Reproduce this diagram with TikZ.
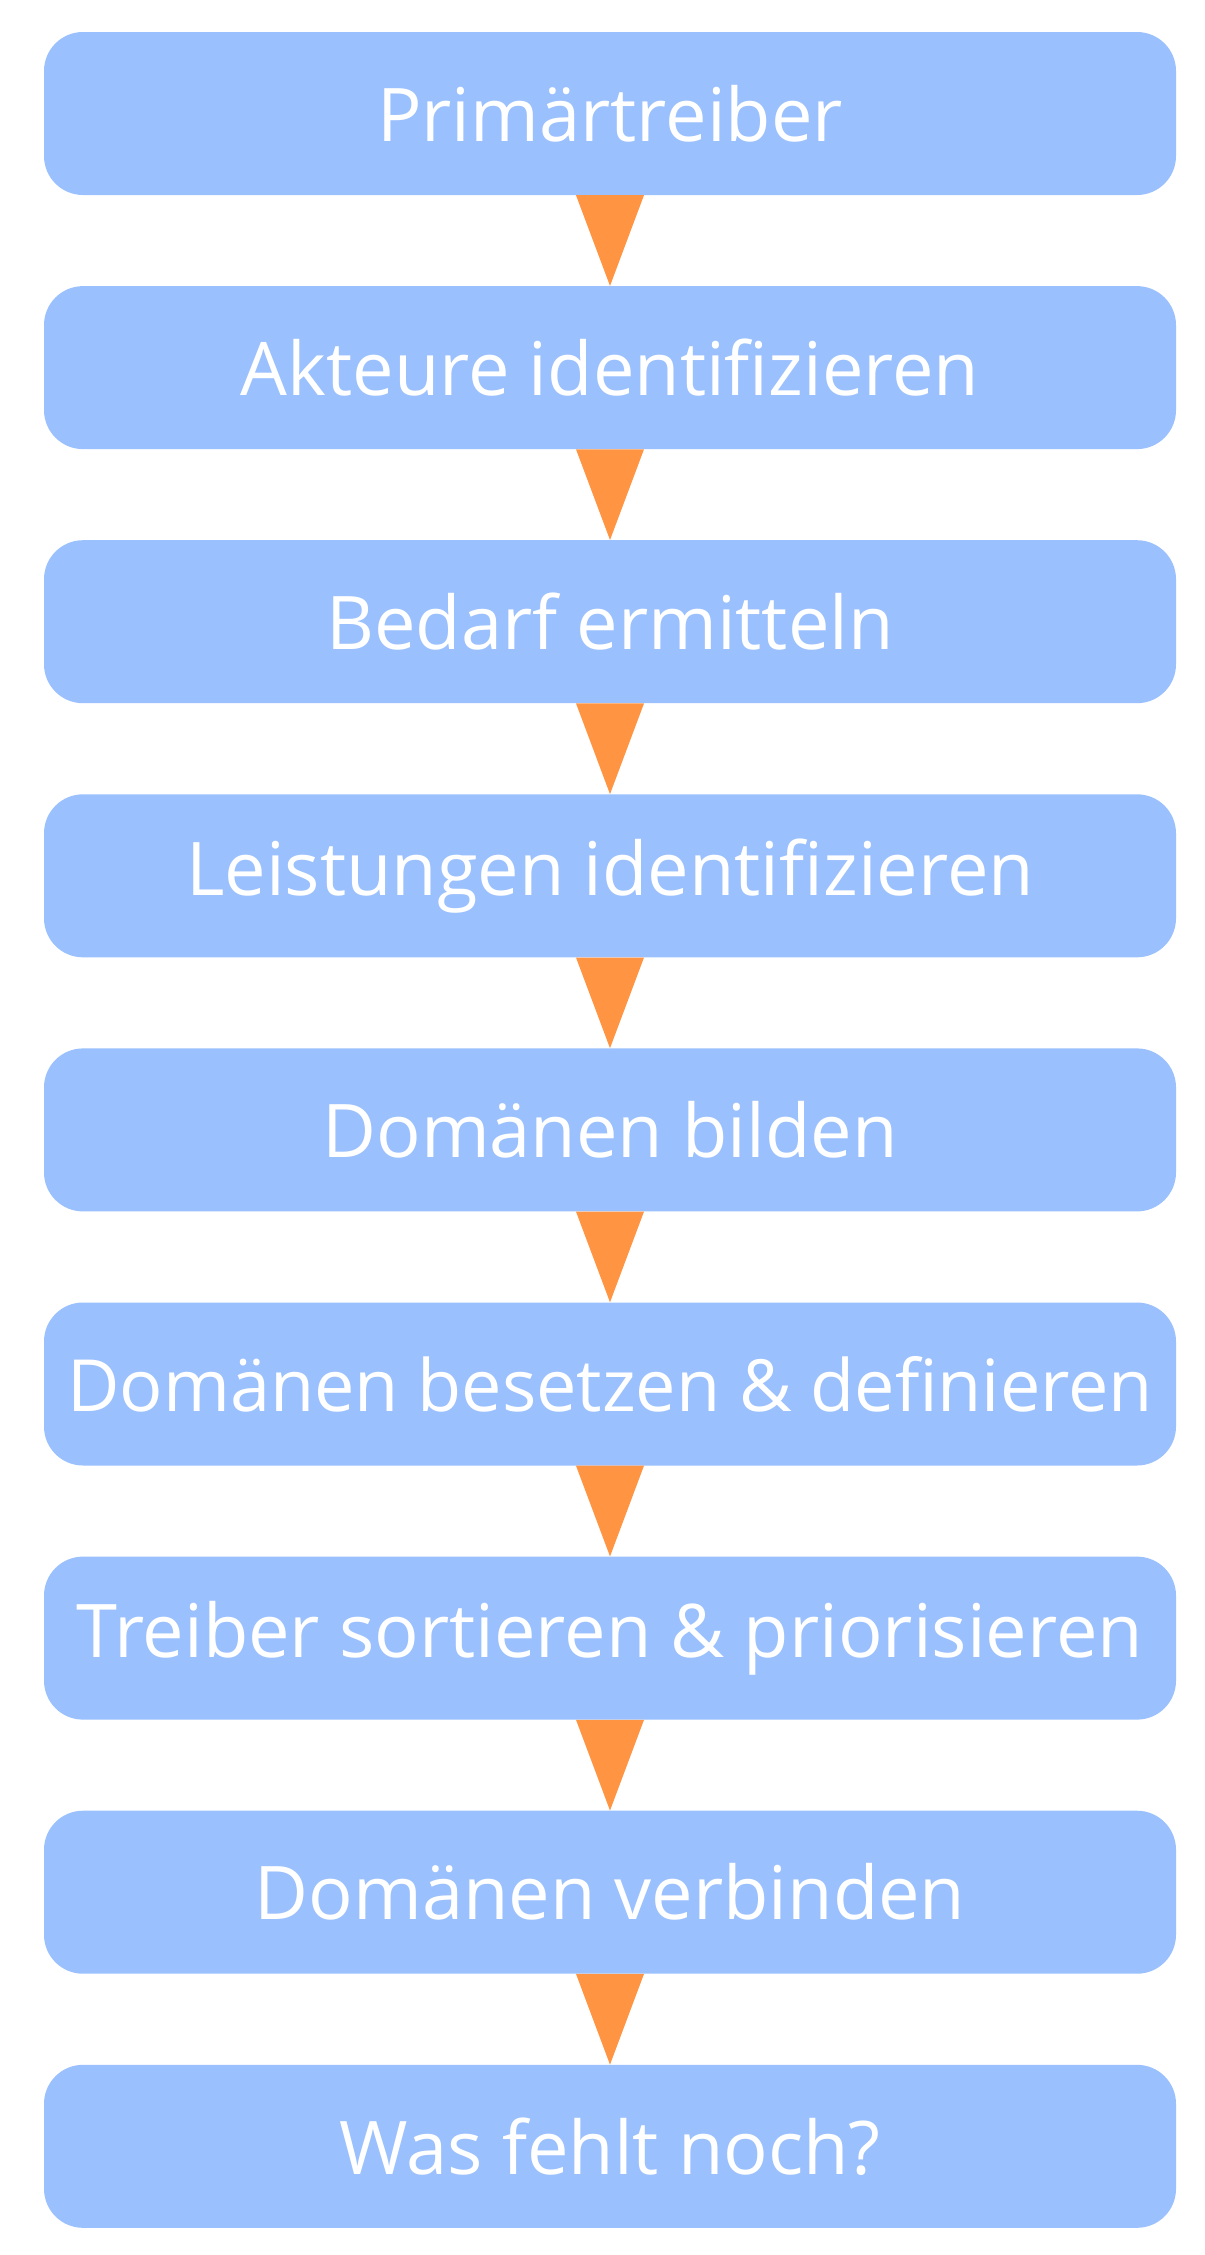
\documentclass[tikz,border=0pt]{standalone}
\usepackage{fontspec}
\setmainfont{Open Sans}
\definecolor{boxblue}{HTML}{9AC0FE}
\definecolor{arrorange}{HTML}{FF9442}
\begin{document}
\begin{tikzpicture}[x=1pt,y=-1pt,
  stepbox/.style={fill=boxblue, rounded corners=39pt, minimum width=1132pt, minimum height=163pt,
    inner sep=0pt, text=white, font=\fontsize{74}{80}\selectfont},
  tri/.style={fill=arrorange}]
\useasboundingbox (0,0) rectangle (1205,2255);
\foreach \i/\t in {1/Primärtreiber,2/Akteure identifizieren,3/Bedarf ermitteln,4/Leistungen identifizieren,5/Domänen bilden,6/{\fontsize{72}{78}\selectfont Domänen besetzen \& definieren},7/Treiber sortieren \& priorisieren,8/Domänen verbinden,9/Was fehlt noch?}{
  \node[stepbox] (b\i) at (610,{113.5+254.1*(\i-1)}) {\t};
}
\foreach \i [evaluate=\i as \j using int(\i+1)] in {1,...,8}{
  \fill[tri] ([xshift=-34pt]b\i.south) -- ([xshift=34pt]b\i.south) -- (b\j.north) -- cycle;
}
\end{tikzpicture}
\end{document}
